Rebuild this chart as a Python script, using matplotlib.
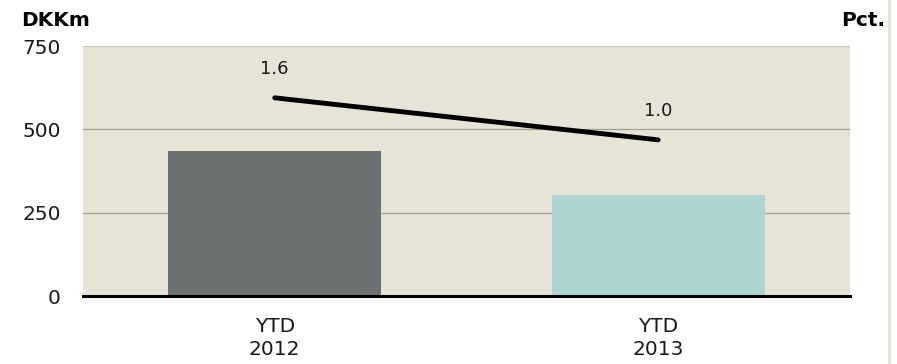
import matplotlib.pyplot as plt
from matplotlib.lines import Line2D

categories = ["YTD\n2012", "YTD\n2013"]
dkkm = [435, 303]
pct = [1.6, 1.0]
pct_labels = ["1.6", "1.0"]

bar_colors = ["#6d7172", "#aed3d3"]

fig = plt.figure(figsize=(8.97, 3.64), dpi=100)
ax = fig.add_axes([0.0925, 0.1868, 0.855, 0.6868])
ax.set_facecolor("#e6e4d4")

x = list(range(len(categories)))
ax.bar(x, dkkm, width=0.555, color=bar_colors, zorder=2)
ax.set_xlim(-0.5, 1.5)
ax.set_ylim(0, 750)
ax.set_yticks([0, 250, 500, 750])
ax.yaxis.grid(True, color="#a0a092", linewidth=0.9, zorder=1)
ax.set_axisbelow(True)
ax.set_xticks(x)
ax.set_xticklabels(categories, fontsize=14.5, color="#1a1a1a", linespacing=1.3)
ax.tick_params(axis="both", length=0, labelsize=14.5, colors="#1a1a1a")
ax.tick_params(axis="y", pad=16)
ax.tick_params(axis="x", pad=15)
for s in ["top", "right", "left"]:
    ax.spines[s].set_visible(False)
ax.spines["bottom"].set_linewidth(2.2)
ax.spines["bottom"].set_color("black")
ax.spines["bottom"].set_zorder(5)
ax.get_ygridlines()[-1].set_color("#c6c4b8")

ax2 = ax.twinx()
ax2.plot(x, pct, color="black", linewidth=3.5, solid_capstyle="round", zorder=4)
ax2.set_ylim(-1.23, 2.34)
ax2.set_yticks([])
for s in ax2.spines.values():
    s.set_visible(False)
for xi, v, lab in zip(x, pct, pct_labels):
    ax2.annotate(lab, (xi, v), xytext=(0, 21), textcoords="offset points",
                 ha="center", va="center", fontsize=13, color="#1a1a1a")

fig.text(0.024, 0.945, "DKKm", fontsize=14.5, fontweight="bold", ha="left", va="center")
fig.text(0.987, 0.945, "Pct.", fontsize=14.5, fontweight="bold", ha="right", va="center")

fig.add_artist(Line2D([0.991, 0.991], [0, 1], transform=fig.transFigure,
                      color="#e6e4d6", linewidth=2))

fig.savefig("out.png", dpi=100)
